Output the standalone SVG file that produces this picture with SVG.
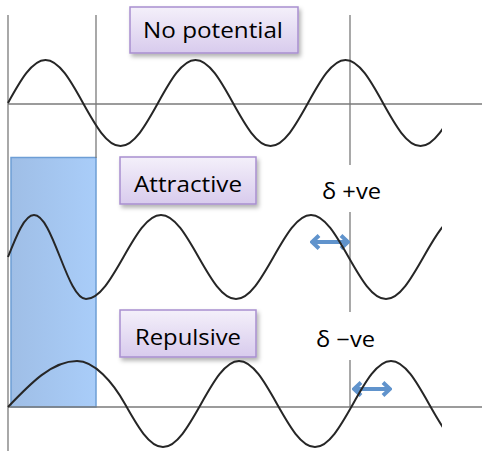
<svg xmlns="http://www.w3.org/2000/svg" width="482" height="451" viewBox="0 0 482 451">
  <defs>
    <style>
      .axis { stroke: #7a7a7a; stroke-width: 1.3; fill: none; }
      .wave { stroke: #262626; stroke-width: 2; fill: none; stroke-linejoin: round; }
      .box { fill: url(#boxFill); stroke: #a88fcf; stroke-width: 1.5; filter: url(#shadow); }
      .lbl { font-family: "Open Sans", "Liberation Sans", sans-serif; font-size: 21.5px; fill: #000; text-anchor: middle; }
      .delta { stroke: #6093cc; stroke-width: 4; fill: none; }
    </style>
    <linearGradient id="boxFill" x1="0" y1="0" x2="0" y2="1">
      <stop offset="0" stop-color="#f4f0fa"/>
      <stop offset="1" stop-color="#d8cbed"/>
    </linearGradient>
    <linearGradient id="wellFill" x1="0" y1="0" x2="1" y2="0">
      <stop offset="0" stop-color="#9fbee6"/>
      <stop offset="1" stop-color="#a9cdf9"/>
    </linearGradient>
    <filter id="shadow" x="-10%" y="-15%" width="125%" height="145%">
      <feDropShadow dx="2" dy="3" stdDeviation="2" flood-color="#000" flood-opacity="0.3"/>
    </filter>
    <clipPath id="waveClip">
      <rect x="0" y="0" width="442" height="451"/>
    </clipPath>
    <marker id="head" viewBox="0 0 11 16" markerUnits="userSpaceOnUse" markerWidth="11" markerHeight="16" refX="9" refY="8" orient="auto-start-reverse">
      <path d="M2,1.5 L9,8 L2,14.5" fill="none" stroke="#6093cc" stroke-width="4" stroke-linejoin="miter"/>
    </marker>
  </defs>

  <g id="well">
    <rect x="11" y="157.5" width="85" height="249.5" fill="url(#wellFill)" stroke="#6e9ed5" stroke-width="1.5"/>
  </g>

  <g id="connectors">
    <line class="axis" x1="8" y1="15" x2="8" y2="451"/>
    <line class="axis" x1="96" y1="15" x2="96" y2="158"/>
    <line class="axis" x1="350" y1="15" x2="350" y2="165"/>
    <line class="axis" x1="350" y1="212" x2="350" y2="312"/>
    <line class="axis" x1="350" y1="360" x2="350" y2="407"/>
    <line class="axis" x1="8" y1="104" x2="482" y2="104"/>
    <line class="axis" x1="8" y1="407" x2="482" y2="407"/>
    <line class="delta" x1="312" y1="242" x2="348" y2="242" marker-start="url(#head)" marker-end="url(#head)"/>
    <line class="delta" x1="354" y1="389" x2="390" y2="389" marker-start="url(#head)" marker-end="url(#head)"/>
  </g>

  <g id="waves" clip-path="url(#waveClip)">
    <path id="wave-free" class="wave" d="M8,103
      c 12.24,-22.05 23.93,-43 37.5,-43 c 13.57,0 25.26,20.95 37.5,43 c 12.24,22.05 23.93,43 37.5,43 c 13.57,0 25.26,-20.95 37.5,-43
      c 12.24,-22.05 23.93,-43 37.5,-43 c 13.57,0 25.26,20.95 37.5,43 c 12.24,22.05 23.93,43 37.5,43 c 13.57,0 25.26,-20.95 37.5,-43
      c 12.24,-22.05 23.93,-43 37.5,-43 c 13.57,0 25.26,20.95 37.5,43 c 12.24,22.05 23.93,43 37.5,43 c 13.57,0 25.26,-20.95 37.5,-43"/>
    <path id="wave-attractive" class="wave" d="M8,257
      c 8.49,-21.54 16.59,-42 26,-42 c 9.41,0 17.51,20.46 26,42 c 8.49,21.54 16.59,42 26,42
      c 13.57,0 25.26,-20.46 37.5,-42 c 12.24,-21.54 23.93,-42 37.5,-42 c 13.57,0 25.26,20.46 37.5,42 c 12.24,21.54 23.93,42 37.5,42
      c 13.57,0 25.26,-20.46 37.5,-42 c 12.24,-21.54 23.93,-42 37.5,-42 c 13.57,0 25.26,20.46 37.5,42 c 12.24,21.54 23.93,42 37.5,42
      c 13.57,0 25.26,-20.46 37.5,-42 c 12.24,-21.54 23.93,-42 37.5,-42"/>
    <path id="wave-repulsive" class="wave" d="M8,407
      c 22.53,-23.59 44.03,-46 69,-46 c 17.37,0 35.59,20.95 48,43
      c 12.41,22.05 24.25,43 38,43 c 13.75,0 25.59,-20.95 38,-43 c 12.41,-22.05 24.25,-43 38,-43 c 13.75,0 25.59,20.95 38,43
      c 12.41,22.05 24.25,43 38,43 c 13.75,0 25.59,-20.95 38,-43 c 12.41,-22.05 24.25,-43 38,-43 c 13.75,0 25.59,20.95 38,43
      c 12.41,22.05 24.25,43 38,43"/>
  </g>

  <g id="label-no-potential">
    <rect class="box" x="130" y="7" width="168" height="46"/>
    <text class="lbl" x="213" y="38" textLength="140" lengthAdjust="spacingAndGlyphs">No potential</text>
  </g>
  <g id="label-attractive">
    <rect class="box" x="120" y="157" width="136" height="47"/>
    <text class="lbl" x="188" y="192" textLength="108" lengthAdjust="spacingAndGlyphs">Attractive</text>
  </g>
  <g id="label-repulsive">
    <rect class="box" x="120" y="310" width="136" height="47"/>
    <text class="lbl" x="188" y="345" textLength="106" lengthAdjust="spacingAndGlyphs">Repulsive</text>
  </g>
  <g id="label-delta-pos">
    <text class="lbl" x="351.5" y="199" textLength="59" lengthAdjust="spacingAndGlyphs">δ +ve</text>
  </g>
  <g id="label-delta-neg">
    <text class="lbl" x="345.5" y="347" textLength="59" lengthAdjust="spacingAndGlyphs">δ −ve</text>
  </g>
</svg>
